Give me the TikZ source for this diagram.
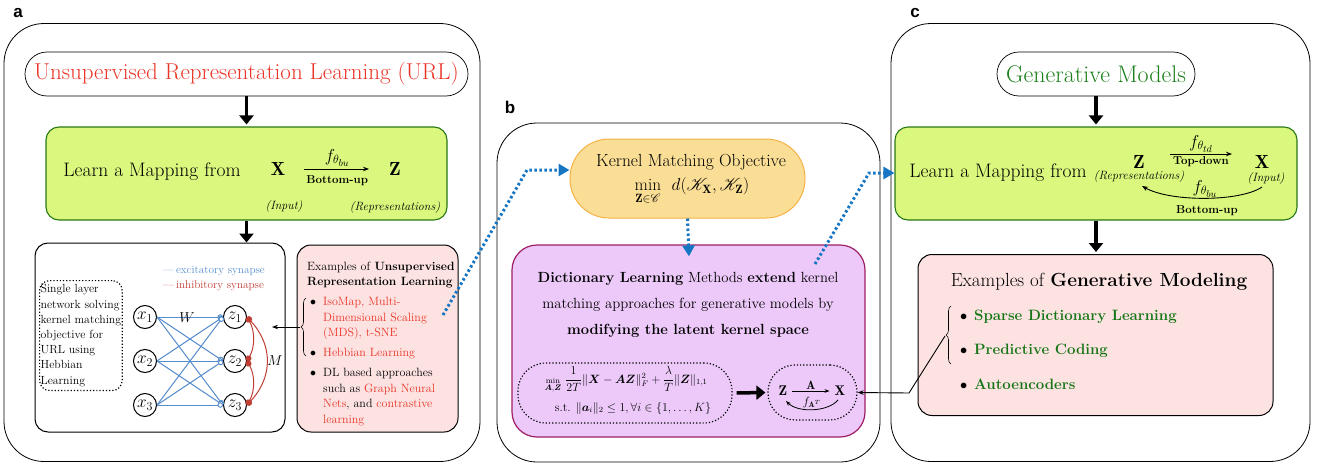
\documentclass[tikz,border=0pt]{standalone}
\usepackage{amsmath,amssymb,mathrsfs}
\usepackage{fontspec}
\newfontfamily\panelfont{Liberation Sans}
\usetikzlibrary{arrows.meta,decorations.pathreplacing,calc}

\definecolor{urlred}{RGB}{234,52,38}
\definecolor{genGreen}{RGB}{28,128,28}
\definecolor{itemGreen}{RGB}{22,118,22}
\definecolor{mapFill}{RGB}{218,248,125}
\definecolor{mapLine}{RGB}{40,120,20}
\definecolor{pinkFill}{RGB}{253,226,226}
\definecolor{kmFill}{RGB}{250,222,150}
\definecolor{kmLine}{RGB}{246,178,70}
\definecolor{dlFill}{RGB}{236,201,249}
\definecolor{dlLine}{RGB}{158,30,100}
\definecolor{flowBlue}{RGB}{22,118,196}
\definecolor{exBlue}{RGB}{88,142,205}
\definecolor{inRed}{RGB}{192,62,52}

\newcommand{\fsz}[2]{\fontsize{#1}{#2}\selectfont}
\newcommand{\rd}[1]{\textcolor{urlred}{#1}}

\begin{document}
\begin{tikzpicture}[x=1pt,y=-1pt,
  panel/.style={draw, line width=0.8pt, rounded corners=40pt, inner sep=0pt},
  pill/.style={draw, line width=0.7pt, rounded corners=22pt, inner sep=0pt},
  mapbox/.style={draw=mapLine, fill=mapFill, line width=1.1pt, rounded corners=13pt, inner sep=0pt},
  pinkbox/.style={draw, fill=pinkFill, line width=1pt, rounded corners=14pt, inner sep=0pt},
  netbox/.style={draw, line width=1pt, rounded corners=13pt, inner sep=0pt},
  dotbox/.style={draw, dotted, line width=1.2pt, inner sep=0pt},
  txt/.style={inner sep=0pt},
  blockarrow/.style={line width=3.5pt, -{Triangle[length=9pt,width=14pt]}},
  flow/.style={draw=flowBlue, line width=3pt, dash pattern=on 2.5pt off 2.5pt, -{Triangle[length=11pt,width=12pt]}},
  neuron/.style={circle, draw, line width=1pt, minimum size=23pt, inner sep=0pt, font=\fsz{17.28}{17.28}},
  exc/.style={exBlue, line width=1pt, -{Circle[open,fill=white,length=5.5pt,width=5.5pt]}},
  inh/.style={inRed, line width=1pt, {Circle[length=6pt]}-{Circle[length=6pt]}},
  thinarrow/.style={line width=0.9pt, -{Stealth[length=6pt]}},
  lbl/.style={font=\panelfont\bfseries\fsz{17}{17}, inner sep=0pt},
]
\path[use as bounding box] (0,0) rectangle (1320,463);

% ---------------- panel a ----------------
\node[lbl] (la) at (18,13) {a};
\node[panel, minimum width=476pt, minimum height=438pt] (pa) at (242,242.5) {};
\node[pill, minimum width=443pt, minimum height=44pt, text=urlred, font=\fsz{23}{23}] (ta) at (246.5,74) {Unsupervised Representation Learning (URL)};

\node[mapbox, minimum width=401pt, minimum height=93pt] (ga) at (246.5,173.5) {};
\node[txt, font=\fsz{19.5}{21}] (gaL) at (152,172) {Learn a Mapping from};
\node[txt, font=\fsz{19}{20}] (gaX) at (278,169) {$\mathbf{X}$};
\node[txt, font=\fsz{19}{20}] (gaZ) at (395,169) {$\mathbf{Z}$};
\draw[thinarrow, shorten <=19pt, shorten >=20pt] (gaX) -- (gaZ)
  node[midway, above=2pt, txt, font=\fsz{17.28}{17.28}] (gaF) {$f_{\theta_{bu}}$}
  node[midway, below=6pt, txt, font=\bfseries\fsz{11.5}{12}] (gaB) {Bottom-up};
\node[txt, font=\itshape\fsz{12}{12}] (gaIn) at (284,207) {(Input)};
\node[txt, font=\itshape\fsz{12}{12}] (gaRep) at (395,208) {(Representations)};

\node[netbox, minimum width=250pt, minimum height=189pt] (nb) at (160,337.5) {};
\draw[blockarrow, shorten >=2pt] (ta.south) -- (ga.north);
\draw[blockarrow] (ga.south) -- (ga.south |- nb.north);

\node[dotbox, rounded corners=10pt, align=left, font=\fsz{11.8}{15.2}, inner xsep=1pt, inner ysep=4pt, anchor=north west] (sl) at (39,280)
  {Single layer\\network solving\\kernel matching\\objective for\\URL using\\Hebbian\\Learning};

\node[txt, anchor=west, font=\fsz{11.2}{12}, text=exBlue] (legE) at (163,271) {---\,excitatory synapse};
\node[txt, anchor=west, font=\fsz{11.2}{12}, text=inRed] (legI) at (163,286) {---\,inhibitory synapse};

\node[neuron] (x1) at (145,317) {$x_1$};
\node[neuron] (x2) at (145,361) {$x_2$};
\node[neuron] (x3) at (145,405) {$x_3$};
\node[neuron] (z1) at (235,317) {$z_1$};
\node[neuron] (z2) at (235,361) {$z_2$};
\node[neuron] (z3) at (235,405) {$z_3$};
\foreach \i in {1,2,3}{
  \foreach \j in {1,2,3}{
    \draw[exc] (x\i.east) -- (z\j.west);
  }
}
\draw[inh] (z1.east) .. controls +(8,14) and +(8,-14) .. (z2.east);
\draw[inh] (z2.east) .. controls +(8,14) and +(8,-14) .. (z3.east);
\draw[inh] (z1.east) .. controls +(26,28) and +(26,-28) .. (z3.east);
\node[txt, font=\fsz{14.4}{14.4}] (wlab) at (187,318) {$W$};
\node[txt, font=\fsz{14.4}{14.4}] (mlab) at (275,361) {$M$};

\node[pinkbox, minimum width=161pt, minimum height=187pt] (pka) at (377.5,338.5) {};
\node[txt, anchor=north west, font=\fsz{12}{15.5}] (pkaT) at (307,259) {%
  \begin{tabular}{@{}l@{\hspace{7pt}}l@{}}
  \multicolumn{2}{@{}l@{}}{Examples of \textbf{Unsupervised}}\\
  \multicolumn{2}{@{}l@{}}{\textbf{Representation Learning}}\\[4.5pt]
  \hspace{3pt}$\bullet$ & \rd{IsoMap, Multi-}\\
   & \rd{Dimensional Scaling}\\
   & \rd{(MDS), t-SNE}\\[4.5pt]
  \hspace{3pt}$\bullet$ & \rd{Hebbian Learning}\\[4.5pt]
  \hspace{3pt}$\bullet$ & DL based approaches\\
   & such as \rd{Graph Neural}\\
   & \rd{Nets}, and \rd{contrastive}\\
   & \rd{learning}
  \end{tabular}};
\draw[line width=0.6pt, decorate, decoration={brace, amplitude=5pt}] (306,356) -- (306,298);
\coordinate (braceA) at (300,327);
\coordinate (netIn) at (272,327);
\draw[thinarrow] (braceA) -- (netIn);

% ---------------- panel b ----------------
\node[lbl] (lb) at (510,107) {b};
\node[panel, minimum width=383pt, minimum height=339pt] (pb) at (688.5,292.5) {};
\node[draw=kmLine, fill=kmFill, line width=1pt, rounded corners=39pt, minimum width=235pt, minimum height=79pt, inner sep=0pt] (km) at (687.5,178.5) {};
\node[txt, font=\fsz{17.5}{18}] (kmT) at (691,162) {Kernel Matching Objective};
\node[txt, font=\fsz{17.28}{18}] (kmF) at (692,191) {$\min\limits_{\mathbf{Z}\in\mathscr{C}}\;\, d(\mathscr{K}_{\mathbf{X}},\mathscr{K}_{\mathbf{Z}})$};

\node[draw=dlLine, fill=dlFill, line width=1.2pt, rounded corners=25pt, minimum width=353pt, minimum height=192pt, inner sep=0pt] (dl) at (688.5,341) {};
\node[txt, font=\fsz{14.7}{26}, align=center] (dlT) at (688,305) {\textbf{Dictionary Learning} Methods \textbf{extend} kernel\\ matching approaches for generative models by\\ \textbf{modifying the latent kernel space}};

\node[dotbox, rounded corners=28pt, minimum width=214pt, minimum height=60pt] (db1) at (625,393) {};
\node[txt, font=\fsz{12}{12}] (dbF1) at (626,380) {$\underset{\boldsymbol{A},\boldsymbol{Z}}{\scriptstyle\min}\ \dfrac{1}{2T}\|\boldsymbol{X}-\boldsymbol{A}\boldsymbol{Z}\|_F^2+\dfrac{\lambda}{T}\|\boldsymbol{Z}\|_{1,1}$};
\node[txt, font=\fsz{12}{12}] (dbF2) at (633,408) {s.t. $\|\boldsymbol{a}_i\|_2\le 1,\forall i\in\{1,\ldots,K\}$};

\node[dotbox, rounded corners=27pt, minimum width=89pt, minimum height=55pt] (db2) at (812.5,392.5) {};
\node[txt, font=\fsz{14}{14}] (dbZ) at (783,391) {$\mathbf{Z}$};
\node[txt, font=\fsz{14}{14}] (dbX) at (840,391) {$\mathbf{X}$};
\draw[line width=0.8pt, -{Stealth[length=5pt]}, shorten <=5pt, shorten >=5pt] (dbZ) -- (dbX)
  node[midway, above=1pt, txt, font=\fsz{12}{12}] (dbA) {$\mathbf{A}$};
\coordinate (loopS) at (838,400);
\coordinate (loopE) at (786,401);
\draw[line width=0.8pt, -{Stealth[length=5pt]}] (loopS) .. controls (828,412) and (798,413) .. (loopE);
\node[txt, font=\fsz{12}{12}] (dbf) at (812,402) {$f_{\mathbf{A}^T}$};
\draw[blockarrow, shorten <=4pt, shorten >=2pt] (db1.east) -- (db2.west);

% ---------------- panel c ----------------
\node[lbl] (lc) at (915,13) {c};
\node[panel, minimum width=419pt, minimum height=438pt] (pc) at (1100.5,242.5) {};
\node[pill, minimum width=198pt, minimum height=44pt, text=genGreen, font=\fsz{24}{24}] (tc) at (1096,74) {Generative Models};

\node[mapbox, minimum width=402pt, minimum height=93pt] (gc) at (1096,173.5) {};
\node[txt, font=\fsz{19.5}{21}] (gcL) at (998,173) {Learn a Mapping from};
\node[txt, font=\fsz{19}{20}] (gcZ) at (1139,162) {$\mathbf{Z}$};
\node[txt, font=\fsz{19}{20}] (gcX) at (1262,162) {$\mathbf{X}$};
\node[txt, font=\itshape\fsz{12}{12}] (gcRep) at (1139,177) {(Representations)};
\node[txt, font=\itshape\fsz{12}{12}] (gcIn) at (1266,179) {(Input)};
\coordinate (tdS) at (1170,154);
\coordinate (tdE) at (1232,154);
\draw[thinarrow] (tdS) -- (tdE)
  node[midway, above=1pt, txt, font=\fsz{17.28}{17.28}] (gcFtd) {$f_{\theta_{td}}$}
  node[midway, below=2pt, txt, font=\bfseries\fsz{11.5}{12}] (gcTD) {Top-down};
\coordinate (buS2) at (1262,187);
\coordinate (buE2) at (1142,186);
\draw[thinarrow] (buS2) .. controls (1240,202) and (1170,202) .. (buE2);
\node[txt, font=\fsz{17.28}{17.28}] (gcFbu) at (1205,189) {$f_{\theta_{bu}}$};
\node[txt, font=\bfseries\fsz{11.5}{12}] (gcBU) at (1207,211) {Bottom-up};

\node[pinkbox, minimum width=355pt, minimum height=161pt] (pkc) at (1095.5,335) {};
\draw[blockarrow, shorten >=2pt] (tc.south) -- (gc.north);
\draw[blockarrow, shorten >=2pt] (gc.south) -- (gc.south |- pkc.north);
\node[txt, font=\fsz{19}{19}] (pkcT) at (1099,282) {Examples of \textbf{Generative Modeling}};
\node[txt, anchor=west, font=\bfseries\fsz{15}{15}] (it1) at (960,317) {\makebox[14pt][l]{$\bullet$}\textcolor{itemGreen}{Sparse Dictionary Learning}};
\node[txt, anchor=west, font=\bfseries\fsz{15}{15}] (it2) at (960,351) {\makebox[14pt][l]{$\bullet$}\textcolor{itemGreen}{Predictive Coding}};
\node[txt, anchor=west, font=\bfseries\fsz{15}{15}] (it3) at (960,384) {\makebox[14pt][l]{$\bullet$}\textcolor{itemGreen}{Autoencoders}};
\draw[line width=0.6pt, decorate, decoration={brace, amplitude=5pt}] (951,364) -- (951,306);
\coordinate (braceC) at (945,336);
\coordinate (braceBend) at (909,393);
\draw[thinarrow] (braceC) -- (braceBend) -- (db2.east);

% ---------------- dotted flow connectors ----------------
\coordinate (urlOut) at (443,315);
\coordinate (bendL) at (527,170);
\draw[flow] (urlOut) -- (bendL) -- (bendL -| km.west);
\draw[flow, shorten >=-12pt] (km.south) -- (dl.north);
\coordinate (dlOut) at (815,264);
\coordinate (bendR) at (869,173);
\draw[flow] (dlOut) -- (bendR) -- (bendR -| gc.west);
\end{tikzpicture}
\end{document}
